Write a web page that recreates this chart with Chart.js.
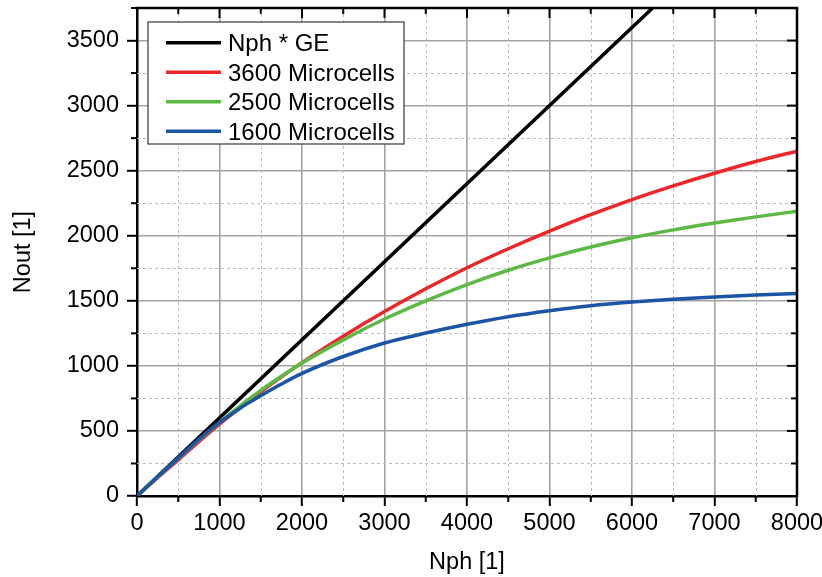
<!DOCTYPE html>
<html>
<head>
<meta charset="utf-8">
<script src="https://cdn.jsdelivr.net/npm/chart.js@4.4.0/dist/chart.umd.min.js"></script>
<style>
  html, body { margin: 0; padding: 0; background: #fff; }
</style>
</head>
<body>
<canvas id="chart" width="822" height="577"></canvas>
<script>
// values
const nph = [0, 250, 500, 750, 1000, 1250, 1500, 1750, 2000, 2500, 3000, 3500,
             4000, 4500, 5000, 5500, 6000, 6500, 7000, 7500, 8000];
const cells3600 = [0, 140, 278, 418, 553, 678, 800, 915, 1025, 1228, 1417, 1592,
                   1754, 1900, 2036, 2162, 2278, 2383, 2480, 2570, 2650];
const cells2500 = [0, 147, 290, 430, 565, 693, 812, 920, 1022, 1200, 1360, 1500,
                   1625, 1735, 1830, 1913, 1984, 2045, 2098, 2145, 2188];
const cells1600 = [0, 148, 292, 435, 565, 675, 770, 860, 942, 1072, 1176, 1252,
                   1320, 1378, 1424, 1462, 1490, 1512, 1530, 1545, 1557];
const geNph = [0, 6250];
const geNout = [0, 3750];

const xTicks = [0, 1000, 2000, 3000, 4000, 5000, 6000, 7000, 8000];
const yTicks = [0, 500, 1000, 1500, 2000, 2500, 3000, 3500];

const labels = ['Nph * GE', '3600 Microcells', '2500 Microcells', '1600 Microcells'];
const colors = ['#000000', '#ec2629', '#5cb944', '#1b55a6'];

const FONT = "'Liberation Sans', Arial, sans-serif";

function pts(xs, ys) {
    return xs.map((v, i) => ({ x: v, y: ys[i] }));
}

function seg(ctx, x1, y1, x2, y2) {
    ctx.beginPath();
    ctx.moveTo(x1, y1);
    ctx.lineTo(x2, y2);
    ctx.stroke();
}

// dashed minor grid, minor ticks, top/right frame and legend box
const framePlugin = {
    id: 'frame',
    beforeDatasetsDraw(chart) {
        const { ctx, chartArea: a, scales: { x, y } } = chart;
        ctx.save();
        ctx.strokeStyle = '#bdbdbd';
        ctx.lineWidth = 1;
        ctx.setLineDash([3, 3]);
        for (let v = 500; v < 8000; v += 1000) {
            const px = Math.round(x.getPixelForValue(v)) + 0.5;
            seg(ctx, px, a.top, px, a.bottom);
        }
        for (let v = 250; v < 3750; v += 500) {
            const py = Math.round(y.getPixelForValue(v)) + 0.5;
            seg(ctx, a.left, py, a.right, py);
        }
        ctx.restore();
    },
    afterDatasetsDraw(chart) {
        const { ctx, chartArea: a, scales: { x, y } } = chart;
        ctx.save();
        ctx.strokeStyle = '#000';
        ctx.lineWidth = 2;
        // bottom / top ticks
        for (let v = 0; v <= 8000; v += 500) {
            const px = x.getPixelForValue(v);
            const major = v % 1000 === 0;
            if (!major) seg(ctx, px, a.bottom, px, a.bottom + 6);
            seg(ctx, px, a.top, px, a.top + (major ? 10 : 6));
        }
        // left / right ticks
        for (let v = 0; v <= 3750; v += 250) {
            const py = y.getPixelForValue(v);
            const major = v % 500 === 0;
            if (!major) seg(ctx, a.left - 6, py, a.left, py);
            seg(ctx, a.right - (major ? 10 : 6), py, a.right, py);
        }
        ctx.lineWidth = 2.5;
        seg(ctx, a.left - 1.25, a.top, a.right + 1.25, a.top);
        seg(ctx, a.right, a.top, a.right, a.bottom + 1.25);

        // legend
        const bx = a.left + 11, by = a.top + 14, bw = 256, bh = 122;
        ctx.fillStyle = '#fff';
        ctx.fillRect(bx, by, bw, bh);
        ctx.strokeStyle = '#444';
        ctx.lineWidth = 1.3;
        ctx.strokeRect(bx, by, bw, bh);
        ctx.font = '24px ' + FONT;
        ctx.textBaseline = 'alphabetic';
        chart.data.datasets.forEach((ds, i) => {
            const ly = by + 20.7 + i * 29.5;
            ctx.strokeStyle = ds.borderColor;
            ctx.lineWidth = 3.5;
            seg(ctx, bx + 18, ly, bx + 73, ly);
            ctx.fillStyle = '#000';
            ctx.fillText(ds.label, bx + 80, ly + 8.5);
        });
        ctx.restore();
    }
};

const datasets = [
    { label: labels[0], data: pts(geNph, geNout), order: 4 },
    { label: labels[1], data: pts(nph, cells3600), order: 3 },
    { label: labels[2], data: pts(nph, cells2500), order: 2 },
    { label: labels[3], data: pts(nph, cells1600), order: 1 }
].map((d, i) => Object.assign(d, {
    borderColor: colors[i],
    backgroundColor: colors[i],
    borderWidth: 3.5,
    pointRadius: 0,
    fill: false,
    cubicInterpolationMode: 'monotone'
}));

const tickFont = { family: FONT, size: 23.5 };

new Chart(document.getElementById('chart'), {
    type: 'line',
    data: { datasets: datasets },
    options: {
        responsive: false,
        animation: false,
        layout: { padding: { top: 8, right: 25, left: 0, bottom: 0 } },
        plugins: { legend: { display: false }, tooltip: { enabled: false } },
        scales: {
            x: {
                type: 'linear',
                min: 0,
                max: 8000,
                afterBuildTicks(scale) {
                    scale.ticks = xTicks.map(v => ({ value: v }));
                },
                ticks: { color: '#000', padding: 3, maxRotation: 0, autoSkip: false,
                         font: tickFont, callback: v => String(v) },
                grid: { color: '#a3a3a3', lineWidth: 1.6, tickLength: 10,
                        tickColor: '#000', tickWidth: 2 },
                border: { color: '#000', width: 2.5 },
                title: { display: true, text: 'Nph [1]', color: '#000',
                         font: tickFont, padding: { top: 1, bottom: 0 } },
                afterFit(scale) {
                    scale.height = 81;
                    scale.paddingLeft = 0;
                    scale.paddingRight = 0;
                }
            },
            y: {
                min: 0,
                max: 3750,
                afterBuildTicks(scale) {
                    scale.ticks = yTicks.map(v => ({ value: v }));
                },
                ticks: { color: '#000', padding: 8, autoSkip: false,
                         font: tickFont, callback: v => String(v) },
                grid: { color: '#a3a3a3', lineWidth: 1.6, tickLength: 10,
                        tickColor: '#000', tickWidth: 2 },
                border: { color: '#000', width: 2.5 },
                title: { display: true, text: 'Nout [1]', color: '#000',
                         font: tickFont, padding: { top: 9, bottom: 0 } },
                afterFit(scale) {
                    scale.width = 137;
                    scale.paddingTop = 0;
                    scale.paddingBottom = 0;
                }
            }
        }
    },
    plugins: [framePlugin]
});
</script>
</body>
</html>
